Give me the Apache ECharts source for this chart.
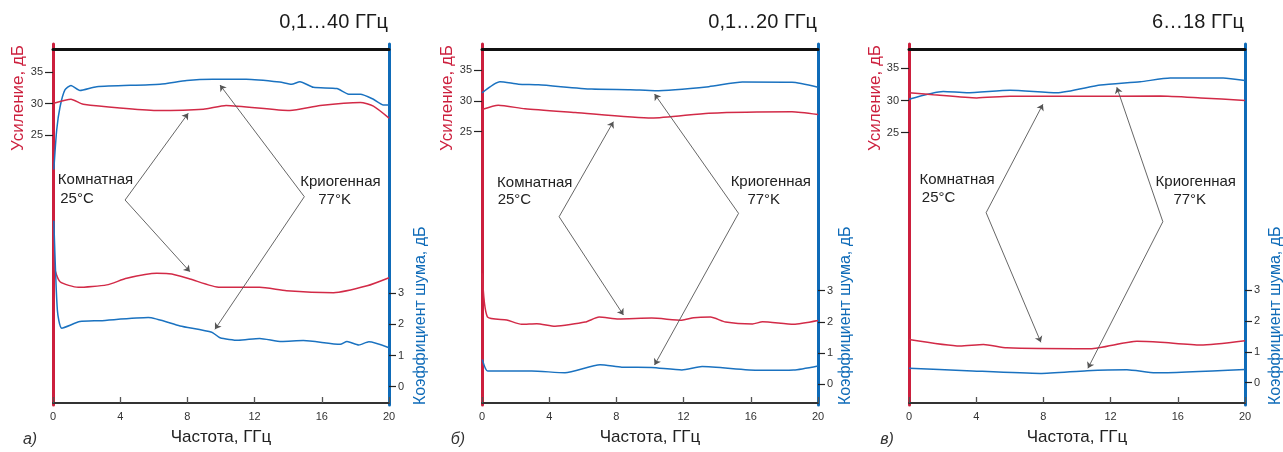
<!DOCTYPE html>
<html><head><meta charset="utf-8">
<script src="https://cdn.jsdelivr.net/npm/echarts@6/dist/echarts.min.js"></script>
<style>html,body{margin:0;padding:0;background:#fff}#c{width:1283px;height:452px}</style>
</head><body><div id="c"></div>
<script>
// ---------- texts / ticks ----------
const xTicks = [0, 4, 8, 12, 16, 20];
const gainTicks = [25, 30, 35];
const noiseTicks = [0, 1, 2, 3];
const panelTitles = ['0,1…40 ГГц', '0,1…20 ГГц', '6…18 ГГц'];
const panelLetters = ['а)', 'б)', 'в)'];
const xName = 'Частота, ГГц';
const gainName = 'Усиление, дБ';
const noiseName = 'Коэффициент шума, дБ';
const roomLabel = ['Комнатная', '25°C'];
const cryoLabel = ['Криогенная', '77°K'];

// ---------- panel а) ----------
const aGainCryoF = [0.05, 0.22, 0.42, 0.71, 1.07, 1.6, 2.6, 6.37, 7.96, 9.5, 11.5, 13.5, 14.2, 14.7, 15.5, 16.9, 17.6, 18.3, 19.07, 19.66, 20];
const aGainCryoV = [19.5, 25.8, 29.5, 32.2, 32.9, 32.1, 32.7, 33.1, 33.7, 33.9, 33.9, 33.45, 33.1, 33.5, 32.6, 32.4, 31.5, 31.5, 30.7, 29.8, 29.8];
const aGainRoomF = [0.05, 1.07, 1.8, 6.17, 8.95, 10.3, 14.1, 15.9, 18.3, 19.07, 20];
const aGainRoomV = [30.05, 30.7, 29.9, 28.9, 29.1, 29.7, 28.9, 29.7, 30.2, 29.6, 27.7];
const aNoiseRoomF = [0.03, 0.08, 0.42, 1.5, 3.2, 4.39, 6.17, 7.07, 8.15, 9.94, 12.3, 13.9, 16.7, 18.7, 20];
const aNoiseRoomV = [5.3, 3.85, 3.37, 3.19, 3.27, 3.48, 3.64, 3.62, 3.46, 3.19, 3.19, 3.08, 3.02, 3.24, 3.5];
const aNoiseCryoF = [0.05, 0.26, 0.52, 1.6, 2.8, 5.67, 7.56, 9.45, 9.94, 11.03, 12.3, 13.6, 14.9, 17.1, 17.5, 18.2, 18.8, 20];
const aNoiseCryoV = [5.33, 2.46, 1.88, 2.09, 2.12, 2.22, 1.95, 1.75, 1.57, 1.49, 1.55, 1.45, 1.48, 1.36, 1.45, 1.34, 1.44, 1.25];

// ---------- panel б) ----------
const bGainCryoF = [0, 1.07, 2.17, 3.36, 6.53, 8.82, 10.3, 13.5, 15.5, 18.45, 20];
const bGainCryoV = [31.3, 33.1, 32.7, 32.6, 31.9, 31.8, 31.65, 32.3, 33.05, 33.0, 32.2];
const bGainRoomF = [0, 0.97, 2.56, 5.54, 10.1, 13.5, 18.45, 20];
const bGainRoomV = [28.6, 29.3, 28.7, 28.1, 27.2, 28.0, 28.25, 27.8];
const bNoiseRoomF = [0.02, 0.32, 1.47, 2.36, 3.26, 4.35, 6.14, 6.97, 8.12, 10.1, 11.9, 12.6, 13.6, 14.5, 16.1, 16.7, 18.55, 20];
const bNoiseRoomV = [3.56, 2.16, 2.06, 1.92, 1.94, 1.86, 1.99, 2.15, 2.09, 2.12, 2.05, 2.13, 2.15, 1.99, 1.93, 2.0, 1.92, 2.04];
const bNoiseCryoF = [0.02, 0.34, 2.96, 4.94, 7.03, 8.32, 10.1, 11.9, 13.1, 16.5, 18.55, 20];
const bNoiseCryoV = [0.79, 0.42, 0.42, 0.36, 0.62, 0.54, 0.53, 0.45, 0.56, 0.44, 0.45, 0.58];

// ---------- panel в) ----------
const cGainCryoF = [0, 2.04, 3.44, 6.02, 8.8, 11.4, 13.76, 15.55, 18.7, 20];
const cGainCryoV = [30.2, 31.4, 31.2, 31.6, 31.2, 32.4, 32.9, 33.5, 33.5, 33.1];
const cGainRoomF = [0, 1.45, 4.03, 6.02, 9.4, 14.96, 17.35, 20];
const cGainRoomV = [31.2, 30.9, 30.4, 30.65, 30.65, 30.7, 30.4, 30.0];
const cNoiseRoomF = [0, 3.04, 4.43, 5.82, 10.8, 13.57, 14.96, 17.35, 20];
const cNoiseRoomV = [1.40, 1.19, 1.24, 1.13, 1.10, 1.34, 1.31, 1.22, 1.36];
const cNoiseCryoF = [0, 3.44, 7.8, 10.6, 12.97, 14.66, 20];
const cNoiseCryoV = [0.47, 0.39, 0.30, 0.39, 0.42, 0.32, 0.43];

// ---------- annotation arrows (data coords on gain axis): [x0,y0,x1,y1] ----------
const aArrows = [[4.29, 14.63, 8.05, 28.46], [4.29, 14.63, 8.15, 3.2], [14.96, 15.16, 9.94, 32.97], [14.96, 15.16, 9.64, -5.99]];
const bArrows = [[4.59, 11.22, 7.82, 26.62], [4.59, 11.22, 8.42, -4.71], [15.27, 11.77, 10.27, 31.11], [15.27, 11.77, 10.27, -12.81]];
const cArrows = [[4.59, 12.58, 7.97, 29.41], [4.59, 12.58, 7.85, -7.55], [15.11, 11.18, 12.37, 32.05], [15.11, 11.18, 10.65, -11.58]];
// label anchor points (data coords): room line1, room line2, cryo line1, cryo line2
const aLabelPos = [[2.53, 17.82], [1.43, 14.79], [17.11, 17.5], [16.76, 14.63]];
const bLabelPos = [[3.14, 16.74], [1.93, 13.93], [17.19, 16.85], [16.77, 13.93]];
const cLabelPos = [[2.86, 17.66], [1.76, 14.86], [17.07, 17.35], [16.71, 14.55]];

// ---------- build ----------
const zip = (f, v) => f.map((x, i) => [x, v[i]]);
const RED = '#cc1f3d', BLUE = '#0f6bb8', RED_L = '#d22a47', BLUE_L = '#1a72c0';
const FONT = '"Liberation Sans", Arial, sans-serif';

const panels = [
  { left: 53, gain: [-18.06, 39.51], noise: [-0.59, 11.01],
    series: [[aGainCryoF, aGainCryoV], [aGainRoomF, aGainRoomV], [aNoiseRoomF, aNoiseRoomV], [aNoiseCryoF, aNoiseCryoV]],
    arrows: aArrows, labels: aLabelPos },
  { left: 482, gain: [-19.29, 39.21], noise: [-0.675, 10.93],
    series: [[bGainCryoF, bGainCryoV], [bGainRoomF, bGainRoomV], [bNoiseRoomF, bNoiseRoomV], [bNoiseCryoF, bNoiseCryoV]],
    arrows: bArrows, labels: bLabelPos },
  { left: 909, gain: [-17.28, 38.77], noise: [-0.72, 10.96],
    series: [[cGainCryoF, cGainCryoV], [cGainRoomF, cGainRoomV], [cNoiseRoomF, cNoiseRoomV], [cNoiseCryoF, cNoiseCryoV]],
    arrows: cArrows, labels: cLabelPos }
];

const grid = [], xAxis = [], yAxis = [], series = [];
panels.forEach((p, i) => {
  grid.push({ left: p.left, top: 44, width: 336, height: 361 });
  xAxis.push({
    type: 'value', gridIndex: i, position: 'bottom', offset: -2, min: 0, max: 20, interval: 4,
    axisLine: { onZero: false, lineStyle: { color: '#333', width: 2 } },
    axisTick: { inside: true, length: 6, lineStyle: { color: '#555', width: 1.3 } },
    axisLabel: { color: '#333', fontSize: 11, margin: 8, fontFamily: FONT },
    splitLine: { show: false },
    name: xName, nameLocation: 'middle', nameGap: 26,
    nameTextStyle: { color: '#222', fontSize: 17, fontFamily: FONT }
  });
  xAxis.push({
    type: 'value', gridIndex: i, position: 'top', offset: -5, min: 0, max: 20,
    axisLine: { onZero: false, lineStyle: { color: '#111', width: 3 } },
    axisTick: { show: false }, axisLabel: { show: false }, splitLine: { show: false }
  });
  yAxis.push({
    type: 'value', gridIndex: i, position: 'left', min: p.gain[0], max: p.gain[1],
    axisLine: { show: true, onZero: false, lineStyle: { color: RED, width: 3 } },
    axisTick: { show: true, length: 8, customValues: gainTicks, lineStyle: { color: '#222', width: 1.2 } },
    axisLabel: { customValues: gainTicks, color: '#333', fontSize: 11, margin: 10, fontFamily: FONT },
    splitLine: { show: false }
  });
  yAxis.push({
    type: 'value', gridIndex: i, position: 'right', min: p.noise[0], max: p.noise[1],
    axisLine: { show: true, onZero: false, lineStyle: { color: BLUE, width: 3 } },
    axisTick: { show: true, length: 7, customValues: noiseTicks, lineStyle: { color: '#222', width: 1.2 } },
    axisLabel: { customValues: noiseTicks, color: '#333', fontSize: 11, margin: 9, fontFamily: FONT },
    splitLine: { show: false }
  });
  const colors = [BLUE_L, RED_L, RED_L, BLUE_L];
  p.series.forEach((s, k) => {
    const ser = {
      type: 'line', xAxisIndex: 2 * i, yAxisIndex: 2 * i + (k < 2 ? 0 : 1),
      data: zip(s[0], s[1]), showSymbol: false, smooth: 0.2, silent: true,
      lineStyle: { color: colors[k], width: 1.5 }, itemStyle: { color: colors[k] }
    };
    if (k === 1) {
      ser.markLine = {
        silent: true, symbol: ['none', 'arrow'], symbolSize: 6,
        label: { show: false },
        lineStyle: { color: '#555', width: 0.9, type: 'solid' },
        emphasis: { disabled: true },
        data: p.arrows.map(a => [{ coord: [a[0], a[1]] }, { coord: [a[2], a[3]] }])
      };
    }
    series.push(ser);
  });
});

const chart = echarts.init(document.getElementById('c'), null, { renderer: 'canvas' });
chart.setOption({ animation: false, backgroundColor: '#fff', grid, xAxis, yAxis, series });

const txt = (x, y, text, font, fill, align, valign, rotation) => ({
  type: 'text', x, y, rotation: rotation || 0, silent: true,
  style: { text, font, fill, align, verticalAlign: valign, textAlign: align, textVerticalAlign: valign }
});
const graphic = [];
const titleRight = [388, 817, 1244];
const letterX = [30, 458, 887];
const gainNameX = [18, 447, 875];
const noiseNameX = [421, 846, 1276];
panels.forEach((p, i) => {
  graphic.push(txt(titleRight[i], 22, panelTitles[i], '20px ' + FONT, '#1a1a1a', 'right', 'middle'));
  graphic.push(txt(letterX[i], 440, panelLetters[i], 'italic 16px ' + FONT, '#333', 'center', 'middle'));
  graphic.push(txt(gainNameX[i], 45, gainName, '17px ' + FONT, RED, 'right', 'middle', Math.PI / 2));
  graphic.push(txt(noiseNameX[i], 405, noiseName, '16px ' + FONT, BLUE, 'left', 'middle', Math.PI / 2));
  const texts = [roomLabel[0], roomLabel[1], cryoLabel[0], cryoLabel[1]];
  p.labels.forEach((pos, j) => {
    const px = chart.convertToPixel({ seriesIndex: i * 4 + 1 }, pos);
    graphic.push(txt(px[0], px[1], texts[j], '15px ' + FONT, '#222', 'center', 'middle'));
  });
});
chart.setOption({ graphic });
</script>
</body></html>
